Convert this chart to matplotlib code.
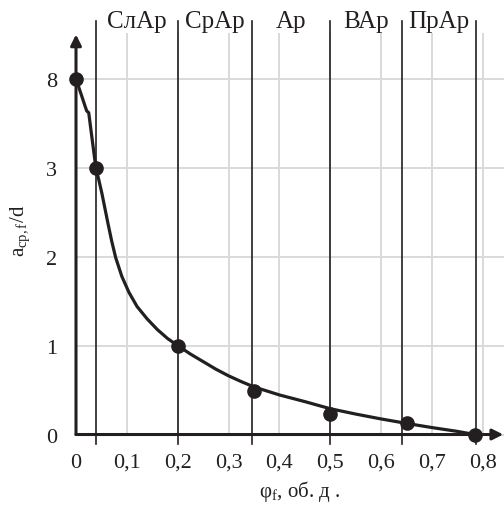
import matplotlib
matplotlib.use("Agg")
import matplotlib.pyplot as plt
import numpy as np

plt.rcParams['font.family'] = ['Liberation Serif', 'DejaVu Serif']
plt.rcParams['mathtext.fontset'] = 'custom'
plt.rcParams['mathtext.rm'] = 'Liberation Serif'
plt.rcParams['mathtext.it'] = 'Liberation Serif:italic'

# точки (φf, a/d)
phi_pts = [0.0, 0.039, 0.2, 0.35, 0.5, 0.65, 0.784]
a_pts = [8.0, 3.0, 1.0, 0.49, 0.236, 0.124, 0.0]

# линия кривой
phi_curve = [0.0, 0.021, 0.025, 0.039, 0.045, 0.051, 0.057, 0.063, 0.07, 0.078,
             0.09, 0.104, 0.12, 0.14, 0.16, 0.18, 0.2, 0.225, 0.25, 0.275,
             0.3, 0.325, 0.35, 0.4, 0.45, 0.5, 0.55, 0.6, 0.65, 0.7,
             0.75, 0.784]
a_curve = [8.0, 6.2, 6.1, 3.0, 2.86, 2.71, 2.54, 2.37, 2.18, 1.99,
           1.78, 1.60, 1.44, 1.30, 1.18, 1.08, 1.0, 0.905, 0.82, 0.735,
           0.66, 0.595, 0.535, 0.445, 0.37, 0.29, 0.23, 0.175, 0.125, 0.078,
           0.035, 0.0]

# границы зон
bounds = [0.039, 0.2, 0.346, 0.5, 0.641, 0.786]
zones = ['СлАр', 'СрАр', 'Ар', 'ВАр', 'ПрАр']

x_ticks = [0, 0.1, 0.2, 0.3, 0.4, 0.5, 0.6, 0.7, 0.8]
x_labels = ['0', '0,1', '0,2', '0,3', '0,4', '0,5', '0,6', '0,7', '0,8']
y_vals = [0, 1, 2, 3, 8]
y_labels = ['0', '1', '2', '3', '8']


def ymap(v):
    # разрыв оси: выше 3 масштаб сжат в 5 раз
    v = np.asarray(v, dtype=float)
    return np.where(v <= 3, v, 3 + (v - 3) / 5.0)


dark = '#231f20'
grey = '#d9d9d9'

fig = plt.figure(figsize=(5.04, 5.06), dpi=100)
ax = fig.add_axes([0.1508, 0.1393, 0.8477, 0.8082])
ax.set_xlim(0, 0.84)
ax.set_ylim(0, 4.6)
for s in ax.spines.values():
    s.set_visible(False)

# серая сетка
for xv in x_ticks[1:]:
    ax.plot([xv, xv], [0, 4.5], color=grey, lw=1.4, zorder=1)
for yv in ymap(y_vals):
    ax.plot([0, 0.84], [yv, yv], color=grey, lw=1.4, zorder=1, clip_on=False)

# границы зон
for b in bounds:
    ax.plot([b, b], [-0.11, 4.65], color=dark, lw=1.2, zorder=2, clip_on=False)
for i, z in enumerate(zones):
    xm = (bounds[i] + bounds[i + 1]) / 2
    ax.text(xm, 4.58, z, ha='center', va='baseline', fontsize=18, color=dark,
            clip_on=False)

# оси со стрелками
ax.annotate('', xy=(0, 4.5), xytext=(0, 0), xycoords='data',
            arrowprops=dict(arrowstyle='-|>', lw=2.2, color=dark,
                            mutation_scale=16, shrinkA=0, shrinkB=0),
            annotation_clip=False, zorder=3)
ax.annotate('', xy=(0.84, 0), xytext=(0, 0), xycoords='data',
            arrowprops=dict(arrowstyle='-|>', lw=2.2, color=dark,
                            mutation_scale=16, shrinkA=0, shrinkB=0),
            annotation_clip=False, zorder=3)

# кривая и точки
ax.plot(phi_curve, ymap(a_curve), color=dark, lw=2.3, zorder=4, clip_on=False,
        solid_joinstyle='round')
ax.plot(phi_pts, ymap(a_pts), 'o', color=dark, ms=9.5, zorder=5, clip_on=False)

ax.set_xticks(x_ticks)
ax.set_xticklabels(x_labels)
ax.set_yticks(ymap(y_vals))
ax.set_yticklabels(y_labels)
ax.tick_params(length=0, labelsize=16, colors=dark)
ax.tick_params(axis='x', pad=13)
ax.tick_params(axis='y', pad=13.5)

ax.text(-0.131, 0.5, r'$\mathrm{a_{ср,f}/d}$', transform=ax.transAxes,
        rotation=90, ha='center', va='center', fontsize=15, color=dark)
ax.text(0.524, -0.138, r'$\mathrm{φ_f}$, об. д .', transform=ax.transAxes,
        ha='center', va='center', fontsize=15, color=dark)

fig.savefig('out.png', dpi=100)
